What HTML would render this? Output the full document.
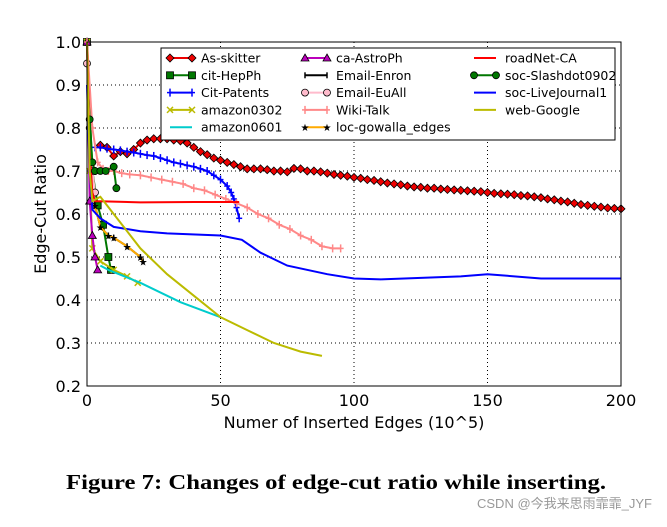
<!DOCTYPE html>
<html><head><meta charset="utf-8"><style>
body{margin:0;background:#fff;width:667px;height:522px;overflow:hidden}
text{font-family:"DejaVu Sans","Liberation Sans",sans-serif}
</style></head><body>
<svg id="c" width="667" height="522"></svg>
<script>
const xTicks=[0,50,100,150,200];
const yTicks=[0.2,0.3,0.4,0.5,0.6,0.7,0.8,0.9,1.0];
const asSkX=[5,7.5,10,12.5,15,17.5,20,22.5,25,27.5,30,32.5,35,37.5,40,42.5,45,47.5,50,52.5,55,57.5,60,62.5,65,67.5,70,72.5,75,77.5,80,82.5,85,87.5,90,92.5,95,97.5,100,102.5,105,107.5,110,112.5,115,117.5,120,122.5,125,127.5,130,132.5,135,137.5,140,142.5,145,147.5,150,152.5,155,157.5,160,162.5,165,167.5,170,172.5,175,177.5,180,182.5,185,187.5,190,192.5,195,197.5,200];
const asSkY=[0.76,0.755,0.735,0.745,0.74,0.75,0.765,0.772,0.775,0.775,0.775,0.772,0.77,0.765,0.755,0.745,0.738,0.73,0.725,0.72,0.715,0.71,0.705,0.705,0.705,0.703,0.7,0.7,0.698,0.706,0.705,0.7,0.7,0.698,0.695,0.692,0.69,0.688,0.685,0.683,0.68,0.678,0.675,0.672,0.67,0.668,0.665,0.663,0.662,0.66,0.66,0.658,0.657,0.656,0.655,0.654,0.653,0.652,0.65,0.648,0.647,0.646,0.645,0.643,0.642,0.64,0.638,0.635,0.633,0.63,0.628,0.625,0.622,0.62,0.618,0.616,0.614,0.613,0.612];
const hepX=[0,2,4,6,8,9];const hepY=[1.0,0.7,0.62,0.575,0.5,0.47];
const patX=[3,5,7.5,10,12.5,15,17.5,20,22.5,25,27.5,30,32.5,35,37.5,40,42.5,45,47.5,50,52.5,54,55,56,57];
const patY=[0.755,0.755,0.752,0.75,0.748,0.745,0.743,0.74,0.737,0.735,0.73,0.725,0.72,0.717,0.713,0.71,0.705,0.7,0.69,0.68,0.665,0.65,0.635,0.615,0.59];
const am302X=[0,1,2,5,10,15,19];const am302Y=[1.0,0.7,0.52,0.49,0.47,0.455,0.44];
const am601X=[5,8,12,20,35,50];const am601Y=[0.48,0.47,0.46,0.44,0.395,0.36];
const astroX=[0,1,2,3,4];const astroY=[1.0,0.63,0.55,0.5,0.47];
const enronX=[3,5,8,10,15,20,21];const enronY=[0.62,0.57,0.55,0.545,0.525,0.5,0.49];
const gowX=[3,5,8,10,15,20,21];const gowY=[0.62,0.57,0.55,0.545,0.525,0.5,0.49];
const euX=[0,1,2,3];const euY=[0.95,0.8,0.7,0.65];
const wikiX=[0,2,4,6,8,10,13,16,20,24,28,32,36,40,44,48,52,56,60,64,68,72,76,80,84,88,92,95];
const wikiY=[1.0,0.8,0.72,0.705,0.70,0.70,0.695,0.692,0.69,0.685,0.68,0.675,0.67,0.66,0.655,0.645,0.635,0.625,0.615,0.60,0.59,0.575,0.565,0.55,0.54,0.525,0.52,0.52];
const roadX=[0,1,2,3,20,40,57];const roadY=[1.0,0.75,0.65,0.63,0.627,0.628,0.628];
const slashX=[1,2,3,5,7,10,11];const slashY=[0.82,0.72,0.70,0.70,0.70,0.71,0.66];
const ljX=[0,1,2,5,10,20,30,50,58,65,75,90,100,110,140,150,170,200];const ljY=[0.9,0.7,0.61,0.59,0.57,0.56,0.555,0.55,0.54,0.51,0.48,0.46,0.45,0.448,0.455,0.46,0.45,0.45];
const webX=[0,1,2,5,10,20,30,40,50,60,70,80,88];const webY=[1.0,0.7,0.63,0.64,0.6,0.52,0.46,0.41,0.36,0.33,0.30,0.28,0.27];
const X0=87,X1=621,Y0=386,Y1=42;
const sx=v=>X0+(v-0)/200*(X1-X0), sy=v=>Y0-(v-0.2)/0.8*(Y0-Y1);
const svg=document.getElementById('c');const NS='http://www.w3.org/2000/svg';
function el(t,a,p){const e=document.createElementNS(NS,t);for(const k in a)e.setAttribute(k,a[k]);(p||svg).appendChild(e);return e;}
xTicks.forEach(v=>{const l=el('line',{x1:sx(v),x2:sx(v),y1:Y1,y2:Y0,stroke:'#000','stroke-dasharray':'1,3'});


const t=el('text',{x:sx(v),y:Y0+20,'text-anchor':'middle','font-size':16});t.textContent=v;

});
yTicks.forEach(v=>{const l=el('line',{x1:X0,x2:X1,y1:sy(v),y2:sy(v),stroke:'#000','stroke-dasharray':'1,3'});


const t=el('text',{x:X0-6,y:sy(v)+6,'text-anchor':'end','font-size':16});t.textContent=v.toFixed(1);

});
function marker(type,x,y,color,g){
 if(type==='D')el('polygon',{points:`${x},${y-4} ${x+4},${y} ${x},${y+4} ${x-4},${y}`,fill:color,stroke:'#000','stroke-width':0.8},g);
 else if(type==='s')el('rect',{x:x-3.5,y:y-3.5,width:7,height:7,fill:color,stroke:'#000','stroke-width':0.8},g);
 else if(type==='o')el('circle',{cx:x,cy:y,r:3.5,fill:color,stroke:'#000','stroke-width':0.8},g);
 else if(type==='^')el('polygon',{points:`${x},${y-4} ${x+4},${y+3} ${x-4},${y+3}`,fill:color,stroke:'#000','stroke-width':0.8},g);
 else if(type==='*')el('text',{x:x,y:y+4,'text-anchor':'middle','font-size':10,fill:'#000'},g).textContent='★';
 else if(type==='+'){el('line',{x1:x,x2:x,y1:y-4,y2:y+4,stroke:color,'stroke-width':1.5},g);el('line',{x1:x-3,x2:x+3,y1:y,y2:y,stroke:color,'stroke-width':1.5},g);}
 else if(type==='x'){el('line',{x1:x-3,x2:x+3,y1:y-3,y2:y+3,stroke:color,'stroke-width':1.5},g);el('line',{x1:x-3,x2:x+3,y1:y+3,y2:y-3,stroke:color,'stroke-width':1.5},g);}
 else if(type==='|'){el('line',{x1:x,x2:x,y1:y-3,y2:y+3,stroke:color,'stroke-width':1.5},g);}
}
const series=[
['as-skitter','As-skitter',asSkX,asSkY,'#e00','D'],
['cit-hepph','cit-HepPh',hepX,hepY,'#070','s'],
['cit-patents','Cit-Patents',patX,patY,'#00f','+'],
['amazon0302','amazon0302',am302X,am302Y,'#bb0','x'],
['amazon0601','amazon0601',am601X,am601Y,'#0cc',''],
['ca-astroph','ca-AstroPh',astroX,astroY,'#b0b','^'],
['email-enron','Email-Enron',enronX,enronY,'#000','|'],
['email-euall','Email-EuAll',euX,euY,'#fbc','o'],
['wiki-talk','Wiki-Talk',wikiX,wikiY,'#f88','+'],
['loc-gowalla','loc-gowalla_edges',gowX,gowY,'#fa0','*'],
['roadnet-ca','roadNet-CA',roadX,roadY,'#f00',''],
['soc-slashdot','soc-Slashdot0902',slashX,slashY,'#070','o'],
['soc-livejournal','soc-LiveJournal1',ljX,ljY,'#00f',''],
['web-google','web-Google',webX,webY,'#bb0','']];
series.forEach(([id,lab,xs,ys,col,m])=>{
 const g=el('g',{});
 
 
 el('polyline',{points:xs.map((x,i)=>sx(x)+','+sy(ys[i])).join(' '),fill:'none',stroke:col,'stroke-width':2},g);
 if(m)xs.forEach((x,i)=>marker(m,sx(x),sy(ys[i]),col,g));
});
el('rect',{x:X0,y:Y1,width:X1-X0,height:Y0-Y1,fill:'none',stroke:'#000','stroke-width':1});
const lg=el('g',{});


el('rect',{x:161,y:48,width:454,height:92,fill:'#fff',stroke:'#000','stroke-width':1},lg);
const colX=[163,298,467];
series.forEach(([id,lab,xs,ys,col,m],i)=>{
 const c=Math.floor(i/5),r=i%5,lx=colX[c],ly=58+r*17.3;
 const e=el('g',{},lg);
 
 
 el('line',{x1:lx+7,x2:lx+29,y1:ly,y2:ly,stroke:col,'stroke-width':2},e);
 if(m){marker(m,lx+7,ly,col,e);marker(m,lx+29,ly,col,e);}
 const t=el('text',{x:lx+38,y:ly+4.5,'font-size':12.5},e);t.textContent=lab;
});
const xl=el('text',{x:354,y:428,'text-anchor':'middle','font-size':16});xl.textContent='Numer of Inserted Edges (10^5)';


const yl=el('text',{x:46,y:214,'text-anchor':'middle','font-size':16,transform:'rotate(-90 46 214)'});yl.textContent='Edge-Cut Ratio';


const cap=el('text',{x:66,y:489,'font-size':21,'font-weight':'bold',textLength:540,lengthAdjust:'spacingAndGlyphs',style:'font-family:"Liberation Serif",serif'});cap.textContent='Figure 7: Changes of edge-cut ratio while inserting.';


const wm=el('text',{x:652,y:508,'text-anchor':'end','font-size':13,fill:'#999',style:'font-family:"Liberation Sans","Noto Sans CJK SC",sans-serif'});wm.textContent='CSDN @今我来思雨霏霏_JYF';


</script>
</body></html>
